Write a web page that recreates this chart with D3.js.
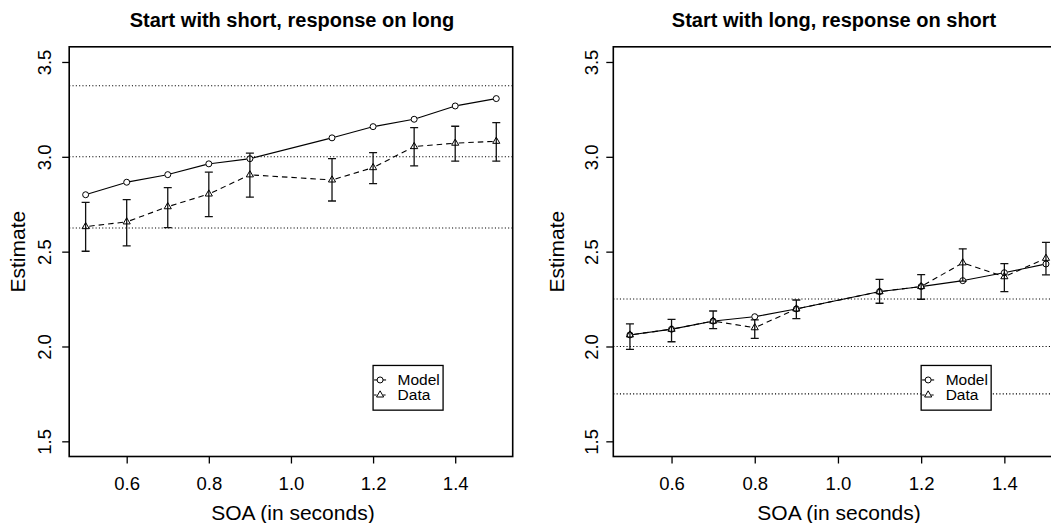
<!DOCTYPE html>
<html>
<head>
<meta charset="utf-8">
<script src="https://cdn.jsdelivr.net/npm/d3@7"></script>
<style>
  html, body { margin: 0; padding: 0; background: #fff; }
  svg { display: block; }
  text { font-family: "Liberation Sans", Arial, Helvetica, sans-serif; fill: #000; }
</style>
</head>
<body>
<svg id="chart" width="1051" height="523"></svg>
<script>
// ---------- data ----------
const soa = [0.5, 0.6, 0.7, 0.8, 0.9, 1.1, 1.2, 1.3, 1.4, 1.5];
const xTicks = [0.6, 0.8, 1.0, 1.2, 1.4];
const yTicks = [1.5, 2.0, 2.5, 3.0, 3.5];

// Panel 1: start with short, response on long
const modelShortLong = [2.800, 2.866, 2.906, 2.963, 2.990, 3.100, 3.159, 3.198, 3.268, 3.307];
const dataShortLong  = [2.632, 2.657, 2.737, 2.804, 2.905, 2.878, 2.943, 3.054, 3.072, 3.082];
const upperShortLong = [2.760, 2.774, 2.838, 2.919, 3.019, 2.990, 3.022, 3.154, 3.161, 3.180];
const lowerShortLong = [2.502, 2.530, 2.627, 2.685, 2.787, 2.767, 2.859, 2.952, 2.977, 2.977];
const refShortLong   = [2.625, 3.0, 3.375];

// Panel 2: start with long, response on short
const modelLongShort = [2.061, 2.091, 2.134, 2.157, 2.198, 2.289, 2.316, 2.347, 2.389, 2.435];
const dataLongShort  = [2.061, 2.091, 2.134, 2.099, 2.198, 2.289, 2.316, 2.441, 2.368, 2.465];
const upperLongShort = [2.119, 2.143, 2.187, 2.140, 2.245, 2.354, 2.379, 2.515, 2.437, 2.549];
const lowerLongShort = [1.985, 2.025, 2.094, 2.043, 2.147, 2.228, 2.249, 2.345, 2.289, 2.378];
const refLongShort   = [1.75, 2.0, 2.25];

const titles = ["Start with short, response on long", "Start with long, response on short"];
const legendLabels = ["Model", "Data"];
const xLabel = "SOA (in seconds)";
const yLabel = "Estimate";

// ---------- layout ----------
const FONT = '"Liberation Sans", Arial, Helvetica, sans-serif';
const svg = d3.select("#chart");
const plotTop = 46.8, plotBottom = 456.5;
const panels = [
  { x0: 69.2, x1: 512.7, model: modelShortLong, data: dataShortLong, up: upperShortLong, lo: lowerShortLong, refs: refShortLong, title: titles[0], tickOff: 18.5, labOff: 43.8, xLabShift: 2, titleShift: 1 },
  { x0: 613.3, x1: 1062.6, model: modelLongShort, data: dataLongShort, up: upperLongShort, lo: lowerLongShort, refs: refLongShort, title: titles[1], tickOff: 15.5, labOff: 49.8, xLabShift: 4, titleShift: -1 }
];

const defs = svg.append("defs");

panels.forEach((p, i) => {
  const x = d3.scaleLinear().domain([0.46, 1.54]).range([p.x0, p.x1]);
  const y = d3.scaleLinear().domain([1.42, 3.58]).range([plotBottom, plotTop]);
  const g = svg.append("g");

  const clipId = "clip" + i;
  defs.append("clipPath").attr("id", clipId)
    .append("rect").attr("x", p.x0).attr("y", plotTop).attr("width", p.x1 - p.x0).attr("height", plotBottom - plotTop);
  const plot = g.append("g").attr("clip-path", `url(#${clipId})`);

  // reference dotted lines
  plot.selectAll("line.ref").data(p.refs).join("line")
    .attr("x1", p.x0).attr("x2", p.x1)
    .attr("y1", d => y(d)).attr("y2", d => y(d))
    .attr("stroke", "#000").attr("stroke-width", 1.1)
    .attr("stroke-dasharray", "1.1,2.2");

  // lines with gaps around points (type = "b")
  function gappedSegments(vals, gap) {
    const segs = [];
    for (let k = 0; k < vals.length - 1; k++) {
      const ax = x(soa[k]), ay = y(vals[k]), bx = x(soa[k + 1]), by = y(vals[k + 1]);
      const dx = bx - ax, dy = by - ay, L = Math.hypot(dx, dy);
      if (L <= 2 * gap) continue;
      const ux = dx / L, uy = dy / L;
      segs.push([ax + ux * gap, ay + uy * gap, bx - ux * gap, by - uy * gap]);
    }
    return segs;
  }
  plot.selectAll("line.model").data(gappedSegments(p.model, 3.2)).join("line")
    .attr("x1", d => d[0]).attr("y1", d => d[1]).attr("x2", d => d[2]).attr("y2", d => d[3])
    .attr("stroke", "#000").attr("stroke-width", 1.1);
  plot.selectAll("line.data").data(gappedSegments(p.data, 3.6)).join("line")
    .attr("x1", d => d[0]).attr("y1", d => d[1]).attr("x2", d => d[2]).attr("y2", d => d[3])
    .attr("stroke", "#000").attr("stroke-width", 1.1).attr("stroke-dasharray", "5.5,4");

  // error bars
  const eb = plot.selectAll("g.eb").data(soa.map((s, k) => ({ s, up: p.up[k], lo: p.lo[k] }))).join("g");
  eb.append("line").attr("x1", d => x(d.s)).attr("x2", d => x(d.s))
    .attr("y1", d => y(d.up)).attr("y2", d => y(d.lo)).attr("stroke", "#111").attr("stroke-width", 1.3);
  eb.append("line").attr("x1", d => x(d.s) - 4).attr("x2", d => x(d.s) + 4)
    .attr("y1", d => y(d.up)).attr("y2", d => y(d.up)).attr("stroke", "#111").attr("stroke-width", 1.3);
  eb.append("line").attr("x1", d => x(d.s) - 4).attr("x2", d => x(d.s) + 4)
    .attr("y1", d => y(d.lo)).attr("y2", d => y(d.lo)).attr("stroke", "#111").attr("stroke-width", 1.3);

  // markers
  plot.selectAll("circle.m").data(p.model).join("circle")
    .attr("cx", (d, k) => x(soa[k])).attr("cy", d => y(d)).attr("r", 3)
    .attr("fill", "none").attr("stroke", "#000").attr("stroke-width", 1);
  const tri = d3.symbol(d3.symbolTriangle).size(22);
  plot.selectAll("path.t").data(p.data).join("path")
    .attr("d", tri).attr("transform", (d, k) => `translate(${x(soa[k])},${y(d)})`)
    .attr("fill", "none").attr("stroke", "#000").attr("stroke-width", 1);

  // frame
  g.append("rect").attr("x", p.x0).attr("y", plotTop).attr("width", p.x1 - p.x0).attr("height", plotBottom - plotTop)
    .attr("fill", "none").attr("stroke", "#000").attr("stroke-width", 1.6);

  // x axis
  const xa = g.append("g").attr("transform", `translate(0,${plotBottom})`)
    .call(d3.axisBottom(x).tickValues(xTicks).tickSize(7).tickFormat(d3.format(".1f")));
  xa.select(".domain").remove();
  xa.selectAll(".tick line").attr("stroke", "#000").attr("stroke-width", 1.3);
  xa.selectAll(".tick text").attr("y", 33).attr("dy", null)
    .style("font-family", FONT).style("font-size", "18.5px").attr("fill", "#000");

  // y axis
  const ya = g.append("g").attr("transform", `translate(${p.x0},0)`)
    .call(d3.axisLeft(y).tickValues(yTicks).tickSize(7).tickFormat(d3.format(".1f")));
  ya.select(".domain").remove();
  ya.selectAll(".tick line").attr("stroke", "#000").attr("stroke-width", 1.3);
  ya.selectAll(".tick text").attr("x", null).attr("dy", null)
    .attr("text-anchor", "middle")
    .attr("transform", `translate(${-p.tickOff},0) rotate(-90)`)
    .style("font-family", FONT).style("font-size", "18.5px").attr("fill", "#000");

  // title (centred on the nominal plot width)
  const cx = p.x0 + 443.5 / 2;
  g.append("text").attr("x", cx + p.titleShift).attr("y", 27)
    .attr("text-anchor", "middle").style("font-size", "20px").style("font-weight", "bold")
    .text(p.title);

  // axis labels
  g.append("text").attr("x", cx + p.xLabShift).attr("y", 519.5)
    .attr("text-anchor", "middle").style("font-size", "21px").text(xLabel);
  g.append("text").attr("transform", `translate(${p.x0 - p.labOff},${(plotTop + plotBottom) / 2}) rotate(-90)`)
    .attr("text-anchor", "middle").style("font-size", "21px").text(yLabel);

  // legend at (1.2, 1.9)
  const lx = x(1.2), ly = y(1.9);
  const lg = g.append("g");
  lg.append("rect").attr("x", lx).attr("y", ly).attr("width", 70).attr("height", 44.7)
    .attr("fill", "#fff").attr("stroke", "#000").attr("stroke-width", 1.3);
  const rows = [ly + 14.5, ly + 29.5];
  lg.append("line").attr("x1", lx + 1).attr("x2", lx + 13).attr("y1", rows[0]).attr("y2", rows[0])
    .attr("stroke", "#000").attr("stroke-width", 1.1);
  lg.append("line").attr("x1", lx + 1).attr("x2", lx + 13).attr("y1", rows[1]).attr("y2", rows[1])
    .attr("stroke", "#000").attr("stroke-width", 1.1).attr("stroke-dasharray", "2.5,2");
  lg.append("circle").attr("cx", lx + 7).attr("cy", rows[0]).attr("r", 3)
    .attr("fill", "#fff").attr("stroke", "#000").attr("stroke-width", 1);
  lg.append("path").attr("d", tri).attr("transform", `translate(${lx + 7},${rows[1]})`)
    .attr("fill", "#fff").attr("stroke", "#000").attr("stroke-width", 1);
  legendLabels.forEach((t, k) => {
    lg.append("text").attr("x", lx + 24.5).attr("y", rows[k] + 5.5)
      .style("font-size", "15.5px").text(t);
  });
});
</script>
</body>
</html>
